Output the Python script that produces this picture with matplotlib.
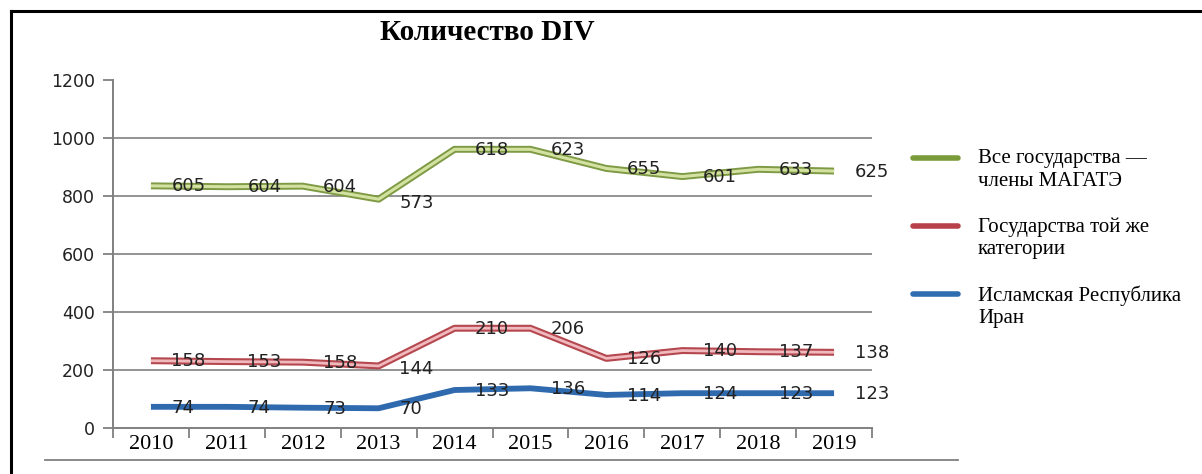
import matplotlib.pyplot as plt
from matplotlib.lines import Line2D

# Données
annees = ["2010", "2011", "2012", "2013", "2014", "2015", "2016", "2017", "2018", "2019"]

# positions des courbes (échelle de l'axe)
tous_etats = [835, 832, 834, 789, 961, 961, 895, 867, 892, 886]
meme_categorie = [232, 229, 227, 214, 344, 344, 240, 267, 263, 261]
iran = [73, 73, 70, 68, 131, 137, 114, 120, 120, 120]

# étiquettes affichées sur les courbes
lbl_tous = [605, 604, 604, 573, 618, 623, 655, 601, 633, 625]
lbl_meme = [158, 153, 158, 144, 210, 206, 126, 140, 137, 138]
lbl_iran = [74, 74, 73, 70, 133, 136, 114, 124, 123, 123]

noms = ["Все государства —\nчлены МАГАТЭ",
        "Государства той же\nкатегории",
        "Исламская Республика\nИран"]

W, H = 1202, 474
fig = plt.figure(figsize=(W / 100, H / 100), dpi=100)
ax = fig.add_axes([113 / W, 1 - 428 / H, (872 - 113) / W, (428 - 80) / H])

x = [i + 0.5 for i in range(len(annees))]

# courbes "doubles" (contour foncé + intérieur clair)
ax.plot(x, tous_etats, color="#7f9a45", lw=5, solid_capstyle="butt", zorder=3)
ax.plot(x, tous_etats, color="#d3e2a0", lw=2.2, solid_capstyle="butt", zorder=4)
ax.plot(x, meme_categorie, color="#b5474f", lw=5, solid_capstyle="butt", zorder=3)
ax.plot(x, meme_categorie, color="#f0b9bd", lw=2, solid_capstyle="butt", zorder=4)
ax.plot(x, iran, color="#2f6aae", lw=4.2, solid_capstyle="butt", zorder=3)

# étiquettes de valeurs, décalées vers la droite
for serie, lbls, dy in [(tous_etats, lbl_tous, -2),
                        (meme_categorie, lbl_meme, -2),
                        (iran, lbl_iran, -3)]:
    for i, (v, l) in enumerate(zip(serie, lbls)):
        yy = v + dy
        if i == 3 and serie is not iran:
            yy = v - 12
        ax.text(i + 0.77, yy, str(l), ha="left", va="center",
                fontsize=13, color="#222222", family="DejaVu Sans", zorder=5)

ax.set_xlim(0, 10)
ax.set_ylim(0, 1200)
ax.set_yticks([0, 200, 400, 600, 800, 1000, 1200])
ax.set_xticks(range(11))
ax.set_xticklabels([])
ax.set_xticks(x, minor=True)
ax.set_xticklabels(annees, minor=True, family="Liberation Serif", fontsize=16)
ax.tick_params(axis="x", which="minor", length=0, pad=5)
ax.tick_params(axis="x", which="major", length=7, width=1.3, color="#808080", direction="out")
ax.tick_params(axis="y", length=7, width=1.3, color="#808080", direction="out", pad=6,
               labelsize=12.5)
for t in ax.get_yticklabels():
    t.set_family("DejaVu Sans")
    t.set_color("#222222")

for s in ["top", "right"]:
    ax.spines[s].set_visible(False)
for s in ["left", "bottom"]:
    ax.spines[s].set_color("#808080")
    ax.spines[s].set_linewidth(1.4)

for g in [200, 400, 600, 800, 1000]:
    ax.axhline(g, color="#808080", lw=1.2, zorder=1)

# titre
fig.text(487 / W, 1 - 33 / H, "Количество DIV", ha="center", va="center",
         family="Liberation Serif", fontweight="bold", fontsize=21)

# légende manuelle
couleurs = ["#7a9b3a", "#b8404a", "#2e6db0"]
ys = [158, 226, 294]
for c, yl, nom in zip(couleurs, ys, noms):
    fig.add_artist(Line2D([913 / W, 958 / W], [1 - yl / H, 1 - yl / H],
                          color=c, lw=4, solid_capstyle="round"))
    fig.text(978 / W, 1 - (yl - 9) / H, nom, ha="left", va="top",
             family="Liberation Serif", fontsize=15, linespacing=1.25)

# cadre et ligne sous les années
fig.add_artist(Line2D([11 / W, 1], [1 - 11 / H, 1 - 11 / H], color="black", lw=2.2))
fig.add_artist(Line2D([11 / W, 11 / W], [0, 1 - 11 / H], color="black", lw=2.2))
fig.add_artist(Line2D([45 / W, 958 / W], [1 - 460 / H, 1 - 460 / H], color="#808080", lw=1.3))

plt.savefig("out.png", dpi=100)
